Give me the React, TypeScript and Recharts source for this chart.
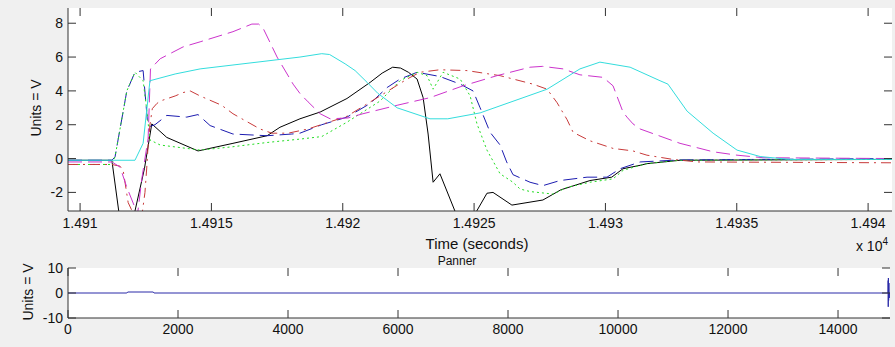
import React from 'react';
import { LineChart, Line, XAxis, YAxis, ReferenceDot } from 'recharts';

const FONT = '"Liberation Sans", Arial, Helvetica, sans-serif';
const AXIS = '#333333';
const BG = '#f0f0f0';
const TICK_LEN = 8;

// ---------- top panel ----------
const topXDomain: [number, number] = [14909.54, 14940.91];
const topYDomain: [number, number] = [-3.1, 8.9];
const topXTicks = [14910, 14915, 14920, 14925, 14930, 14935, 14940];
const topXTickLabels = ['1.491', '1.4915', '1.492', '1.4925', '1.493', '1.4935', '1.494'];
const topYTicks = [-2, 0, 2, 4, 6, 8];

const blackPts: [number, number][] = [
  [14909.54, -0.1], [14911.21, -0.1], [14911.48, -3.2], [14911.75, -6.0], [14912.09, -3.1], [14912.45, -0.6],
  [14912.73, 2.05], [14913.3, 1.25], [14914.49, 0.45], [14915.82, 0.9], [14917.12, 1.35], [14917.61, 1.85],
  [14918.37, 2.35], [14919.14, 2.75], [14920.16, 3.55], [14921.04, 4.5], [14921.5, 5.05], [14921.9, 5.4],
  [14922.2, 5.35], [14922.5, 5.1], [14922.83, 4.7], [14923.06, 3.6], [14923.25, 1.45], [14923.44, -1.4],
  [14923.7, -0.9], [14924.27, -3.1], [14924.65, -4.0], [14925.1, -3.1], [14925.49, -2.05], [14925.72, -2.0],
  [14926.44, -2.75], [14927.62, -2.45], [14928.3, -1.85], [14929.41, -1.3], [14930.24, -1.1], [14930.67, -0.6],
  [14931.32, -0.4], [14931.58, -0.3], [14932.84, -0.1], [14940.91, -0.05],
];

const bluePts: [number, number][] = [
  [14909.54, -0.1], [14911.21, -0.1], [14911.33, 0.1], [14911.78, 4.0], [14912.09, 5.1], [14912.4, 5.2],
  [14912.56, 2.3], [14912.66, 1.9], [14912.85, 2.0], [14913.3, 2.55], [14914.06, 2.45], [14914.49, 2.6],
  [14914.95, 1.95], [14915.82, 1.45], [14917.12, 1.35], [14918.06, 1.45], [14918.37, 1.5], [14919.2, 2.0],
  [14920.16, 2.45], [14921.04, 3.25], [14921.69, 4.2], [14922.18, 4.7], [14922.83, 5.1], [14923.7, 4.85],
  [14924.47, 4.4], [14924.96, 4.0], [14925.23, 3.0], [14925.61, 1.55], [14925.99, 0.8], [14926.24, -0.2],
  [14926.48, -0.95], [14927.13, -1.4], [14927.62, -1.6], [14928.27, -1.3], [14929.3, -1.1], [14930.06, -1.1],
  [14930.56, -0.6], [14931.32, -0.2], [14932.84, -0.08], [14940.91, 0.0],
];

const greenPts: [number, number][] = [
  [14909.54, -0.35], [14911.21, -0.35], [14911.33, 0.1], [14911.78, 4.0], [14912.09, 5.1], [14912.4, 4.6],
  [14912.54, 2.85], [14912.66, 1.1], [14913.05, 0.8], [14914.57, 0.5], [14915.82, 0.7], [14917.12, 0.95],
  [14918.37, 1.15], [14919.2, 1.3], [14920.16, 2.15], [14921.42, 3.4], [14922.18, 4.6], [14922.83, 5.1],
  [14923.21, 4.9], [14923.44, 4.1], [14923.82, 5.1], [14924.47, 4.7], [14924.85, 3.7], [14925.11, 2.05],
  [14925.49, 0.5], [14925.99, -0.9], [14926.48, -1.4], [14926.75, -1.8], [14927.13, -1.95], [14928.01, -2.1],
  [14928.54, -1.7], [14929.41, -1.4], [14930.29, -1.2], [14930.67, -0.7], [14931.32, -0.4], [14931.58, -0.3],
  [14932.84, -0.1], [14940.91, -0.05],
];

const redPts: [number, number][] = [
  [14909.54, -0.35], [14911.21, -0.35], [14911.52, -0.45], [14911.64, -0.7], [14911.83, -2.6], [14912.1, -3.5],
  [14912.35, -3.4], [14912.47, -2.0], [14912.54, -0.5], [14912.59, 0.8], [14912.66, 2.0], [14912.75, 2.95],
  [14912.92, 3.25], [14913.05, 3.4], [14913.62, 3.7], [14913.92, 3.9], [14914.19, 4.0], [14914.57, 3.7],
  [14915.39, 3.15], [14915.82, 2.65], [14916.16, 2.35], [14916.85, 1.75], [14917.3, 1.5], [14917.92, 1.5],
  [14918.68, 1.75], [14920.16, 2.5], [14921.42, 3.7], [14922.45, 4.7], [14922.94, 5.1], [14923.7, 5.25],
  [14924.73, 5.2], [14925.99, 4.9], [14927.24, 4.4], [14927.78, 4.1], [14928.16, 3.3], [14928.54, 2.3],
  [14928.77, 1.55], [14929.41, 1.05], [14930.29, 0.6], [14931.05, 0.45], [14931.58, 0.2], [14932.57, -0.05],
  [14933.5, -0.2], [14940.91, -0.25],
];

const magentaPts: [number, number][] = [
  [14909.54, -0.2], [14911.21, -0.2], [14911.52, -0.5], [14911.78, -1.7], [14912.09, -2.9], [14912.18, -3.4],
  [14912.35, -1.2], [14912.59, 1.2], [14912.68, 5.3], [14913.05, 5.9], [14913.92, 6.6], [14914.57, 6.9],
  [14915.82, 7.5], [14916.54, 7.95], [14916.8, 7.95], [14916.97, 7.7], [14917.5, 6.0], [14918.11, 4.4],
  [14918.37, 3.85], [14918.68, 3.35], [14919.14, 2.65], [14919.52, 2.35], [14920.2, 2.4], [14920.77, 2.65],
  [14922.07, 3.15], [14923.32, 3.6], [14924.58, 4.3], [14925.87, 4.9], [14927.13, 5.4], [14927.6, 5.45],
  [14928.39, 5.3], [14929.03, 4.95], [14929.91, 4.8], [14930.29, 4.3], [14930.67, 2.75], [14930.82, 2.45],
  [14931.05, 2.05], [14931.32, 1.75], [14932.84, 0.9], [14934.1, 0.4], [14935.01, 0.2], [14936.0, 0.05],
  [14940.91, 0.0],
];

const cyanPts: [number, number][] = [
  [14909.54, -0.1], [14912.09, -0.1], [14912.4, 0.9], [14912.66, 4.6], [14913.62, 5.0], [14914.57, 5.3],
  [14918.37, 6.0], [14919.2, 6.2], [14919.5, 6.15], [14920.09, 5.6], [14920.47, 5.2], [14920.93, 4.5],
  [14921.34, 3.85], [14922.07, 3.0], [14923.32, 2.35], [14924.0, 2.35], [14925.23, 2.7], [14927.78, 4.1],
  [14929.03, 5.3], [14929.79, 5.7], [14929.98, 5.65], [14930.94, 5.4], [14932.08, 4.6], [14932.38, 4.4],
  [14933.11, 2.8], [14934.1, 1.5], [14935.01, 0.5], [14935.89, 0.12], [14937.0, -0.05], [14940.91, -0.05],
];

// ---------- bottom panel ----------
const botXDomain: [number, number] = [0, 14945];
const botYDomain: [number, number] = [-10, 10];
const botXTicks = [0, 2000, 4000, 6000, 8000, 10000, 12000, 14000];
const botYTicks = [-10, 0, 10];
const pannerPts: [number, number][] = [
  [0, 0], [1070, 0], [1085, 0.4], [1550, 0.4], [1565, 0], [14905, 0], [14910, 0], [14912, 5],
  [14913, -5.5], [14916, 6], [14920, -3], [14925, 4], [14930, -2], [14936, 0], [14945, 0],
];

const toData = (pts: [number, number][]) => pts.map(([t, v]) => ({ t, v }));

const series = [
  { name: 'black', pts: blackPts, color: '#000000', dash: undefined as string | undefined },
  { name: 'blue', pts: bluePts, color: '#1c1cb0', dash: '14 6' },
  { name: 'green', pts: greenPts, color: '#22dd22', dash: '2 3' },
  { name: 'red', pts: redPts, color: '#c83a3a', dash: '10 5 2 5' },
  { name: 'magenta', pts: magentaPts, color: '#cc33cc', dash: '14 6' },
  { name: 'cyan', pts: cyanPts, color: '#33dddd', dash: undefined as string | undefined },
];

const TEXT_FILL = '#111';
const tickStyle = { fontFamily: FONT, fontSize: 14, fill: TEXT_FILL };

// inward tick marks drawn at scale positions supplied by ReferenceDot (cx, cy)
const DownMark = (p: any) => <line x1={p.cx} x2={p.cx} y1={p.cy} y2={p.cy + TICK_LEN} stroke={AXIS} strokeWidth={1} />;
const UpMark = (p: any) => <line x1={p.cx} x2={p.cx} y1={p.cy - TICK_LEN} y2={p.cy} stroke={AXIS} strokeWidth={1} />;
const RightMark = (p: any) => <line x1={p.cx} x2={p.cx + TICK_LEN} y1={p.cy} y2={p.cy} stroke={AXIS} strokeWidth={1} />;
const LeftMark = (p: any) => <line x1={p.cx - TICK_LEN} x2={p.cx} y1={p.cy} y2={p.cy} stroke={AXIS} strokeWidth={1} />;

const tickMarks = (xTicks: number[], yTicks: number[], xd: [number, number], yd: [number, number]) => [
  ...xTicks.map((t) => (
    <ReferenceDot key={`tt${t}`} xAxisId="b" yAxisId="l" x={t} y={yd[1]} r={0} ifOverflow="visible" shape={DownMark} />
  )),
  ...xTicks.map((t) => (
    <ReferenceDot key={`bt${t}`} xAxisId="b" yAxisId="l" x={t} y={yd[0]} r={0} ifOverflow="visible" shape={UpMark} />
  )),
  ...yTicks.map((v) => (
    <ReferenceDot key={`lt${v}`} xAxisId="b" yAxisId="l" x={xd[0]} y={v} r={0} ifOverflow="visible" shape={RightMark} />
  )),
  ...yTicks.map((v) => (
    <ReferenceDot key={`rt${v}`} xAxisId="b" yAxisId="l" x={xd[1]} y={v} r={0} ifOverflow="visible" shape={LeftMark} />
  )),
];

const topXFmt = (v: number) => topXTickLabels[topXTicks.indexOf(v)] ?? String(v);

export default function App() {
  return (
    <div style={{ position: 'absolute', left: 0, top: 0, width: 895, height: 347, background: BG, overflow: 'hidden' }}>
      <div style={{ position: 'absolute', left: 68, top: 8, width: 824, height: 203, background: '#ffffff' }} />
      <div style={{ position: 'absolute', left: 68, top: 268, width: 822, height: 50, background: '#ffffff' }} />
      <div style={{ position: 'absolute', left: 0, top: 0 }}>
        <LineChart width={895} height={240} margin={{ top: 8, right: 3, bottom: 0, left: 8 }}>
          <XAxis
            xAxisId="b" type="number" dataKey="t" domain={topXDomain} allowDataOverflow ticks={topXTicks}
            tickFormatter={topXFmt} height={29} tickSize={0} tickLine={false} tickMargin={7} stroke={AXIS}
            tick={tickStyle} interval={0}
          />
          <XAxis
            xAxisId="t" orientation="top" type="number" dataKey="t" domain={topXDomain} allowDataOverflow
            height={0} tick={false} tickLine={false} stroke={AXIS}
          />
          <YAxis
            yAxisId="l" type="number" domain={topYDomain} allowDataOverflow ticks={topYTicks}
            width={60} tickSize={0} tickLine={false} tickMargin={5} stroke={AXIS} tick={tickStyle} interval={0}
          />
          <YAxis
            yAxisId="r" orientation="right" type="number" domain={topYDomain} allowDataOverflow
            width={0} tick={false} tickLine={false} stroke={AXIS}
          />
          {series.map((s) => (
            <Line
              key={s.name} xAxisId="b" yAxisId="l" data={toData(s.pts)} dataKey="v" type="linear"
              stroke={s.color} strokeWidth={1} strokeDasharray={s.dash} dot={false} activeDot={false}
              isAnimationActive={false}
            />
          ))}
          {tickMarks(topXTicks, topYTicks, topXDomain, topYDomain)}
        </LineChart>
      </div>
      <div style={{ position: 'absolute', left: 0, top: 240 }}>
        <LineChart width={895} height={107} margin={{ top: 28, right: 5, bottom: 0, left: 8 }}>
          <XAxis
            xAxisId="b" type="number" dataKey="t" domain={botXDomain} allowDataOverflow ticks={botXTicks}
            height={29} tickSize={0} tickLine={false} tickMargin={6} stroke={AXIS} tick={tickStyle} interval={0}
          />
          <XAxis
            xAxisId="t" orientation="top" type="number" dataKey="t" domain={botXDomain} allowDataOverflow
            height={0} tick={false} tickLine={false} stroke={AXIS}
          />
          <YAxis
            yAxisId="l" type="number" domain={botYDomain} allowDataOverflow ticks={botYTicks}
            width={60} tickSize={0} tickLine={false} tickMargin={5} stroke={AXIS} tick={tickStyle} interval={0}
          />
          <YAxis
            yAxisId="r" orientation="right" type="number" domain={botYDomain} allowDataOverflow
            width={0} tick={false} tickLine={false} stroke={AXIS}
          />
          <Line
            xAxisId="b" yAxisId="l" data={toData(pannerPts)} dataKey="v" type="linear"
            stroke="#2a2aa8" strokeWidth={1} dot={false} activeDot={false} isAnimationActive={false}
          />
          {tickMarks(botXTicks, botYTicks, botXDomain, botYDomain)}
        </LineChart>
      </div>
      <svg width={895} height={347} style={{ position: 'absolute', left: 0, top: 0, pointerEvents: 'none' }}>
        <text x={41} y={108} transform="rotate(-90 41 108)" textAnchor="middle" fontFamily={FONT} fontSize={14} fill={TEXT_FILL}>Units = V</text>
        <text x={33} y={292} transform="rotate(-90 33 292)" textAnchor="middle" fontFamily={FONT} fontSize={14} fill={TEXT_FILL}>Units = V</text>
        <text x={477} y={249} textAnchor="middle" fontFamily={FONT} fontSize={15} fill={TEXT_FILL}>Time (seconds)</text>
        <text x={457} y={265} textAnchor="middle" fontFamily={FONT} fontSize={12} fill={TEXT_FILL}>Panner</text>
        <text x={888} y={251} textAnchor="end" fontFamily={FONT} fontSize={14} fill={TEXT_FILL}>
          x 10<tspan fontSize={10} dy={-6}>4</tspan>
        </text>
      </svg>
    </div>
  );
}
